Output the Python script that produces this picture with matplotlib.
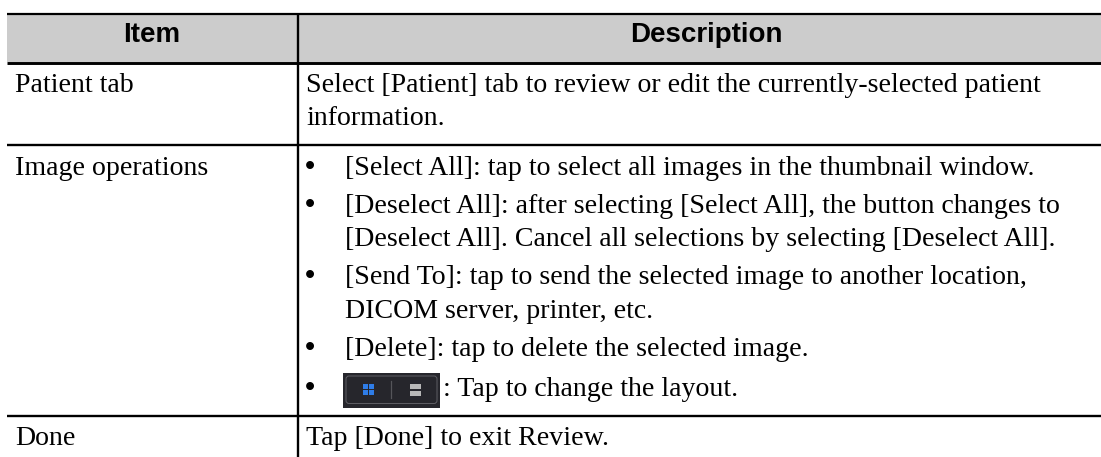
import matplotlib
matplotlib.use('Agg')
import matplotlib.pyplot as plt
from matplotlib.patches import Rectangle, FancyBboxPatch

W = 1101
H = 457

headers = ['Item', 'Description']
items = ['Patient tab', 'Image operations', 'Done']
patient_lines = ['Select [Patient] tab to review or edit the currently-selected patient',
                 'information.']
image_lines = ['[Select All]: tap to select all images in the thumbnail window.',
               '[Deselect All]: after selecting [Select All], the button changes to',
               '[Deselect All]. Cancel all selections by selecting [Deselect All].',
               '[Send To]: tap to send the selected image to another location,',
               'DICOM server, printer, etc.',
               '[Delete]: tap to delete the selected image.']
image_y = [175, 213, 246, 284, 318, 356]
bullet_y = [175, 213, 284, 356, 396]
layout_text = ': Tap to change the layout.'
done_line = 'Tap [Done] to exit Review.'

fig = plt.figure(figsize=(W / 100, H / 100), dpi=100)
ax = fig.add_axes([0, 0, 1, 1])
ax.set_xlim(0, W)
ax.set_ylim(H, 0)
ax.axis('off')

serif = 'Liberation Serif'
sans = 'Liberation Sans'
fs = 20.1

# header
ax.add_patch(Rectangle((7, 13), W - 7, 49, fc='#cccccc', ec='none'))
ax.text(152, 42, headers[0], family=sans, weight='bold', fontsize=20, ha='center', va='baseline')
ax.text(706, 42, headers[1], family=sans, weight='bold', fontsize=20, ha='center', va='baseline')

# rules
ax.plot([7, W], [13.5, 13.5], color='k', lw=1.6, solid_capstyle='butt')
ax.plot([7, W], [62.5, 62.5], color='k', lw=2.1, solid_capstyle='butt')
ax.plot([7, W], [144.7, 144.7], color='k', lw=1.7, solid_capstyle='butt')
ax.plot([7, W], [416, 416], color='k', lw=1.7, solid_capstyle='butt')
ax.plot([298, 298], [13, H], color='k', lw=1.7, solid_capstyle='butt')

# first column
ax.text(15, 92, items[0], family=serif, fontsize=fs, va='baseline')
ax.text(15, 175, items[1], family=serif, fontsize=fs, va='baseline')
ax.text(15, 445, items[2], family=serif, fontsize=fs, va='baseline')

# second column
ax.text(306.5, 92, patient_lines[0], family=serif, fontsize=fs, va='baseline')
ax.text(306.5, 125, patient_lines[1], family=serif, fontsize=fs, va='baseline')
for line, y in zip(image_lines, image_y):
    ax.text(345, y, line, family=serif, fontsize=fs, va='baseline')
for y in bullet_y:
    ax.text(310, y, '\u2022', family=sans, fontsize=21, ha='center', va='baseline')
ax.text(443, 396, layout_text, family=serif, fontsize=fs, va='baseline')
ax.text(306.5, 445, done_line, family=serif, fontsize=fs, va='baseline')

# layout button
ax.add_patch(Rectangle((343, 373), 97, 35, fc='#26262c', ec='none'))
ax.add_patch(FancyBboxPatch((346, 376), 91, 27.5, boxstyle='round,pad=0,rounding_size=3',
                            fc='none', ec='#5f5f65', lw=0.7))
for bx in [363, 369]:
    for by in [384, 390]:
        ax.add_patch(Rectangle((bx, by), 5, 5, fc='#2f7de8', ec='none'))
ax.plot([391, 391], [381, 398], color='#55555a', lw=0.9)
ax.add_patch(Rectangle((409.5, 384), 11.5, 5, fc='#b8b8b8', ec='none'))
ax.add_patch(Rectangle((409.5, 390.5), 11.5, 5, fc='#b8b8b8', ec='none'))

fig.savefig('out.png', dpi=100)
